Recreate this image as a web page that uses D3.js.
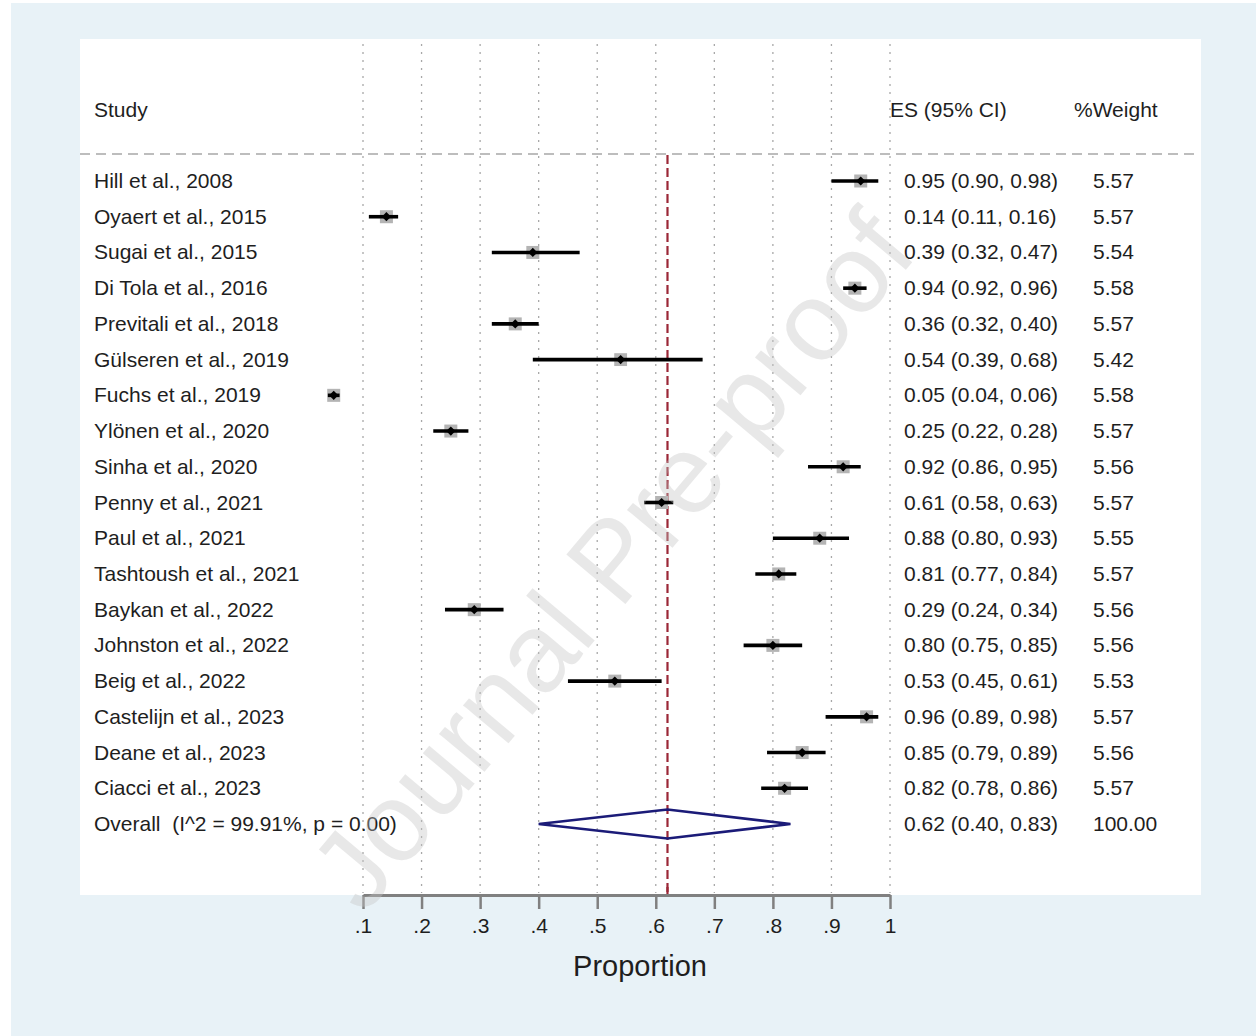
<!DOCTYPE html>
<html>
<head>
<meta charset="utf-8">
<script src="https://cdn.jsdelivr.net/npm/d3@7"></script>
<style>
  html, body { margin: 0; padding: 0; background: #ffffff; }
  svg { display: block; font-family: "Liberation Sans", Arial, sans-serif; }
</style>
</head>
<body>
<svg id="chart" width="1256" height="1036"></svg>
<script>
// ---- data ----
const studies = [
  "Hill et al., 2008", "Oyaert et al., 2015", "Sugai et al., 2015", "Di Tola et al., 2016",
  "Previtali et al., 2018", "Gülseren et al., 2019", "Fuchs et al., 2019", "Ylönen et al., 2020",
  "Sinha et al., 2020", "Penny et al., 2021", "Paul et al., 2021", "Tashtoush et al., 2021",
  "Baykan et al., 2022", "Johnston et al., 2022", "Beig et al., 2022", "Castelijn et al., 2023",
  "Deane et al., 2023", "Ciacci et al., 2023"
];
const es     = [0.95, 0.14, 0.39, 0.94, 0.36, 0.54, 0.05, 0.25, 0.92, 0.61, 0.88, 0.81, 0.29, 0.80, 0.53, 0.96, 0.85, 0.82];
const ciLow  = [0.90, 0.11, 0.32, 0.92, 0.32, 0.39, 0.04, 0.22, 0.86, 0.58, 0.80, 0.77, 0.24, 0.75, 0.45, 0.89, 0.79, 0.78];
const ciHigh = [0.98, 0.16, 0.47, 0.96, 0.40, 0.68, 0.06, 0.28, 0.95, 0.63, 0.93, 0.84, 0.34, 0.85, 0.61, 0.98, 0.89, 0.86];
const weights = [5.57, 5.57, 5.54, 5.58, 5.57, 5.42, 5.58, 5.57, 5.56, 5.57, 5.55, 5.57, 5.56, 5.56, 5.53, 5.57, 5.56, 5.57];
const overallLabel = "Overall  (I^2 = 99.91%, p = 0.00)";
const overall = { es: 0.62, lo: 0.40, hi: 0.83, weight: "100.00" };
const tickValues = [0.1, 0.2, 0.3, 0.4, 0.5, 0.6, 0.7, 0.8, 0.9, 1.0];
const tickLabels = [".1", ".2", ".3", ".4", ".5", ".6", ".7", ".8", ".9", "1"];
const xTitle = "Proportion";
const headers = { study: "Study", es: "ES (95% CI)", weight: "%Weight" };
const watermark = "Journal Pre-proof";

// ---- layout ----
const svg = d3.select("#chart");
const x = d3.scaleLinear().domain([0.1, 1.0]).range([363, 890]);
const y = d3.scaleLinear().domain([0, studies.length]).range([181, 824]);
const sq = d3.scaleSqrt().domain([0, 5.57]).range([0, 13]);
const fmt = d3.format(".2f");
const textColor = "#1e1e1e";
const fs = 21;

// backgrounds
svg.append("rect").attr("x", 11).attr("y", 3).attr("width", 1245).attr("height", 1033).attr("fill", "#e8f2f7");
svg.append("rect").attr("x", 80).attr("y", 39).attr("width", 1121).attr("height", 856).attr("fill", "#ffffff");

// dotted gridlines
svg.append("g").selectAll("line").data(tickValues).join("line")
  .attr("x1", d => x(d)).attr("x2", d => x(d))
  .attr("y1", 44).attr("y2", 893)
  .attr("stroke", "#a8a8a8").attr("stroke-width", 1.3)
  .attr("stroke-dasharray", "2,6");

// header dashed line
svg.append("line").attr("x1", 80).attr("x2", 1197).attr("y1", 154).attr("y2", 154)
  .attr("stroke", "#bdbdbd").attr("stroke-width", 2).attr("stroke-dasharray", "10,6");

// headers
const hdr = svg.append("g").attr("fill", textColor).attr("font-size", fs);
hdr.append("text").attr("x", 94).attr("y", 117).text(headers.study);
hdr.append("text").attr("x", 890).attr("y", 117).text(headers.es);
hdr.append("text").attr("x", 1074).attr("y", 117).text(headers.weight);

// overall reference line
svg.append("line")
  .attr("x1", x(overall.es)).attr("x2", x(overall.es))
  .attr("y1", 155).attr("y2", 895)
  .attr("stroke", "#9b2737").attr("stroke-width", 2.2).attr("stroke-dasharray", "9,4");

// study rows
const rows = svg.append("g").selectAll("g").data(studies).join("g");
rows.append("rect")
  .attr("x", (d, i) => x(es[i]) - sq(weights[i]) / 2)
  .attr("y", (d, i) => y(i) - sq(weights[i]) / 2)
  .attr("width", (d, i) => sq(weights[i]))
  .attr("height", (d, i) => sq(weights[i]))
  .attr("fill", "#b4b4b4");
rows.append("line")
  .attr("x1", (d, i) => x(ciLow[i])).attr("x2", (d, i) => x(ciHigh[i]))
  .attr("y1", (d, i) => y(i)).attr("y2", (d, i) => y(i))
  .attr("stroke", "#000").attr("stroke-width", 3.6);
rows.append("path")
  .attr("d", (d, i) => {
    const cx = x(es[i]), cy = y(i), r = 4.6;
    return `M${cx - r},${cy}L${cx},${cy - r}L${cx + r},${cy}L${cx},${cy + r}Z`;
  })
  .attr("fill", "#000");
rows.append("text").attr("x", 94).attr("y", (d, i) => y(i) + 7)
  .attr("fill", textColor).attr("font-size", fs).text(d => d);
rows.append("text").attr("x", 904).attr("y", (d, i) => y(i) + 7)
  .attr("fill", textColor).attr("font-size", fs)
  .text((d, i) => `${fmt(es[i])} (${fmt(ciLow[i])}, ${fmt(ciHigh[i])})`);
rows.append("text").attr("x", 1093).attr("y", (d, i) => y(i) + 7)
  .attr("fill", textColor).attr("font-size", fs)
  .text((d, i) => fmt(weights[i]));

// overall row
const oy = y(studies.length);
svg.append("path")
  .attr("d", `M${x(overall.lo)},${oy}L${x(overall.es)},${oy - 14.5}L${x(overall.hi)},${oy}L${x(overall.es)},${oy + 14.5}Z`)
  .attr("fill", "none").attr("stroke", "#1b1b78").attr("stroke-width", 2.6);
svg.append("text").attr("x", 94).attr("y", oy + 7).attr("fill", textColor).attr("font-size", fs)
  .style("white-space", "pre").text(overallLabel);
svg.append("text").attr("x", 904).attr("y", oy + 7).attr("fill", textColor).attr("font-size", fs)
  .text(`${fmt(overall.es)} (${fmt(overall.lo)}, ${fmt(overall.hi)})`);
svg.append("text").attr("x", 1093).attr("y", oy + 7).attr("fill", textColor).attr("font-size", fs)
  .text(overall.weight);

// axis
const axis = d3.axisBottom(x).tickValues(tickValues)
  .tickFormat((d, i) => tickLabels[i]).tickSize(14).tickSizeOuter(0).tickPadding(9);
const ag = svg.append("g").attr("transform", "translate(0,895)").call(axis);
ag.select(".domain").attr("stroke", "#808080").attr("stroke-width", 3);
ag.selectAll(".tick line").attr("stroke", "#808080").attr("stroke-width", 2.5);
ag.selectAll(".tick text").attr("fill", textColor).attr("font-size", 21)
  .attr("font-family", "Liberation Sans, Arial, sans-serif");
svg.append("line").attr("x1", x(overall.es)).attr("x2", x(overall.es)).attr("y1", 887).attr("y2", 894)
  .attr("stroke", "#9b2737").attr("stroke-width", 2.2);

svg.append("text").attr("x", 640).attr("y", 976)
  .attr("text-anchor", "middle").attr("fill", textColor).attr("font-size", 29).text(xTitle);

// watermark
svg.append("text")
  .attr("transform", "translate(612,560) rotate(-50)")
  .attr("text-anchor", "middle").attr("dominant-baseline", "central")
  .attr("font-size", 112).attr("fill", "#c4c4c4").attr("opacity", 0.38)
  .text(watermark);
</script>
</body>
</html>
